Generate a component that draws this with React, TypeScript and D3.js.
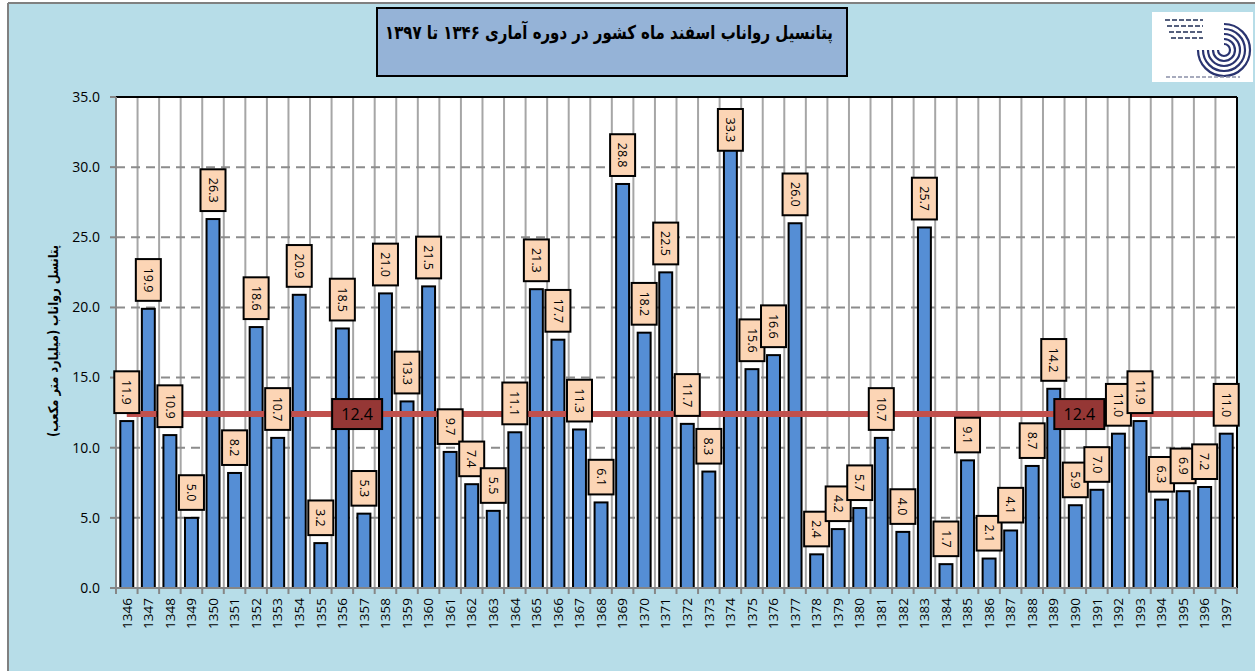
import React from "react";
import * as d3 from "d3";

const years = [
  "1346","1347","1348","1349","1350","1351","1352","1353","1354","1355",
  "1356","1357","1358","1359","1360","1361","1362","1363","1364","1365",
  "1366","1367","1368","1369","1370","1371","1372","1373","1374","1375",
  "1376","1377","1378","1379","1380","1381","1382","1383","1384","1385",
  "1386","1387","1388","1389","1390","1391","1392","1393","1394","1395",
  "1396","1397",
];
const values = [
  11.9, 19.9, 10.9, 5.0, 26.3, 8.2, 18.6, 10.7, 20.9, 3.2,
  18.5, 5.3, 21.0, 13.3, 21.5, 9.7, 7.4, 5.5, 11.1, 21.3,
  17.7, 11.3, 6.1, 28.8, 18.2, 22.5, 11.7, 8.3, 33.3, 15.6,
  16.6, 26.0, 2.4, 4.2, 5.7, 10.7, 4.0, 25.7, 1.7, 9.1,
  2.1, 4.1, 8.7, 14.2, 5.9, 7.0, 11.0, 11.9, 6.3, 6.9,
  7.2, 11.0,
];
const yTicks = [0, 5, 10, 15, 20, 25, 30, 35];
const average = 12.4;
const avgLabelYears = ["1357", "1390"];
const titleText = "پتانسیل رواناب اسفند ماه کشور در دوره آماری ۱۳۴۶ تا ۱۳۹۷";
const yTitle = "پتانسل رواناب (میلیارد متر مکعب)";

const W = 1255;
const H = 671;
const M = { left: 116, right: 1237, top: 97, bottom: 588 };

const numFont = "'Open Sans', 'Liberation Sans', sans-serif";
const arFont = "'DejaVu Sans', sans-serif";

function textLen(s: string, fs: number) {
  let w = 0;
  for (const c of s) w += c === "." ? fs * 0.27 : fs * 0.57;
  return w;
}

export default function App() {
  const x = d3.scaleBand<string>().domain(years).range([M.left, M.right]).paddingInner(0).paddingOuter(0);
  const bw = x.bandwidth();
  const y = d3.scaleLinear().domain([0, 35]).range([M.bottom, M.top]);
  const barW = bw * 0.6;
  const cx = (yr: string) => (x(yr) as number) + bw / 2;
  const boundaries = d3.range(years.length + 1).map((i) => M.left + i * bw);

  const labelFs = 12.5;
  const avgOffsets = [-bw / 2 + 4, 4];

  const logoCx = 1224;
  const logoCy = 50;
  const radii = [6, 11, 16, 21, 26];

  return (
    <svg width={W} height={H} style={{ position: "absolute", left: 0, top: 0, display: "block" }}>
      <rect x={0} y={0} width={W} height={H} fill="#ffffff" />
      <rect x={8} y={3} width={W - 8} height={H - 3} fill="#b7dde8" />
      <line x1={8} y1={3} x2={W} y2={3} stroke="#808080" strokeWidth={2} />
      <line x1={8} y1={3} x2={8} y2={H} stroke="#808080" strokeWidth={2} />

      {/* title box */}
      <rect x={377} y={8} width={470} height={68} fill="#95b3d7" stroke="#000" strokeWidth={2} />
      <text
        x={609}
        y={39}
        textAnchor="middle"
        fontFamily={arFont}
        fontWeight="bold"
        fontSize={19}
        direction="rtl"
        fill="#000"
        textLength={448}
        lengthAdjust="spacingAndGlyphs"
      >
        {titleText}
      </text>

      {/* logo */}
      <rect x={1152} y={12} width={101} height={70} fill="#ffffff" />
      {radii.map((r, i) => (
        <path
          key={"arc" + i}
          d={`M ${logoCx - r} ${logoCy} A ${r} ${r} 0 1 0 ${logoCx} ${logoCy - r}`}
          fill="none"
          stroke="#2a3470"
          strokeWidth={2.2}
        />
      ))}
      {[20, 26, 32, 38].map((yy, i) => (
        <line key={"lt" + i} x1={1165 + i * 2} y1={yy} x2={1203} y2={yy} stroke="#55607e" strokeWidth={2} strokeDasharray="5,2" />
      ))}
      <line x1={1166} y1={77} x2={1240} y2={77} stroke="#8a90a8" strokeWidth={1.5} strokeDasharray="4,2" />

      {/* plot area */}
      <rect x={M.left} y={M.top} width={M.right - M.left} height={M.bottom - M.top} fill="#ffffff" />

      {boundaries.map((bx, i) => (
        <line key={"vg" + i} x1={bx} x2={bx} y1={M.top} y2={M.bottom} stroke="#a6a6a6" strokeWidth={2} />
      ))}
      {yTicks.filter((t) => t > 0 && t < 35).map((t) => (
        <line key={"hg" + t} x1={M.left} x2={M.right} y1={y(t)} y2={y(t)} stroke="#8c8c8c" strokeWidth={2} strokeDasharray="9,6" />
      ))}

      <line x1={M.left} x2={M.right} y1={M.top} y2={M.top} stroke="#000" strokeWidth={2} />
      <line x1={M.right} x2={M.right} y1={M.top} y2={M.bottom} stroke="#000" strokeWidth={2} />

      {values.map((v, i) => (
        <rect
          key={"b" + i}
          x={cx(years[i]) - barW / 2}
          y={y(v)}
          width={barW}
          height={y(0) - y(v)}
          fill="#558ed5"
          stroke="#000"
          strokeWidth={2}
        />
      ))}

      <line x1={M.left} x2={M.left} y1={M.top} y2={M.bottom} stroke="#868686" strokeWidth={2} />
      <line x1={M.left} x2={M.right} y1={M.bottom} y2={M.bottom} stroke="#868686" strokeWidth={2} />
      {boundaries.map((bx, i) => (
        <line key={"xt" + i} x1={bx} x2={bx} y1={M.bottom} y2={M.bottom + 6} stroke="#868686" strokeWidth={2} />
      ))}
      {yTicks.map((t) => (
        <g key={"yt" + t}>
          <line x1={M.left - 6} x2={M.left} y1={y(t)} y2={y(t)} stroke="#868686" strokeWidth={2} />
          <text x={100} y={y(t)} dy="0.35em" textAnchor="end" fontFamily={numFont} fontSize={14} fill="#000">
            {d3.format(".1f")(t)}
          </text>
        </g>
      ))}
      {years.map((yr) => (
        <text
          key={"xl" + yr}
          transform={`translate(${cx(yr)},${M.bottom + 10}) rotate(-90)`}
          textAnchor="end"
          dy="0.35em"
          fontFamily={numFont}
          fontSize={13.5}
          fill="#000"
        >
          {yr}
        </text>
      ))}

      <text
        transform={`translate(53,341) rotate(-90)`}
        textAnchor="middle"
        dy="0.35em"
        fontFamily={arFont}
        fontSize={13.5}
        fontWeight="bold"
        direction="rtl"
        fill="#000"
        textLength={192}
        lengthAdjust="spacingAndGlyphs"
      >
        {yTitle}
      </text>

      <line
        x1={cx(years[0])}
        x2={cx(years[years.length - 1])}
        y1={y(average)}
        y2={y(average)}
        stroke="#c0504d"
        strokeWidth={6}
      />

      {values.map((v, i) => {
        const s = d3.format(".1f")(v);
        const h = textLen(s, labelFs) + 17;
        const bottom = Math.max(y(v) - 8, M.top + 12 + h);
        const c = cx(years[i]);
        const mid = bottom - h / 2;
        return (
          <g key={"lb" + i}>
            <rect x={c - 12.5} y={bottom - h} width={25} height={h} fill="#fcd5b5" stroke="#000" strokeWidth={2} />
            <text
              transform={`translate(${c},${mid}) rotate(90)`}
              textAnchor="middle"
              dy="0.35em"
              fontFamily={numFont}
              fontSize={labelFs}
              fill="#000"
            >
              {s}
            </text>
          </g>
        );
      })}

      {avgLabelYears.map((yr, i) => {
        const c = cx(yr) + avgOffsets[i];
        const yy = y(average);
        return (
          <g key={"al" + i}>
            <rect x={c - 25} y={yy - 15} width={50} height={30} fill="#953735" stroke="#000" strokeWidth={2} />
            <text x={c} y={yy} dy="0.35em" textAnchor="middle" fontFamily={numFont} fontSize={16} fill="#000">
              {d3.format(".1f")(average)}
            </text>
          </g>
        );
      })}
    </svg>
  );
}
